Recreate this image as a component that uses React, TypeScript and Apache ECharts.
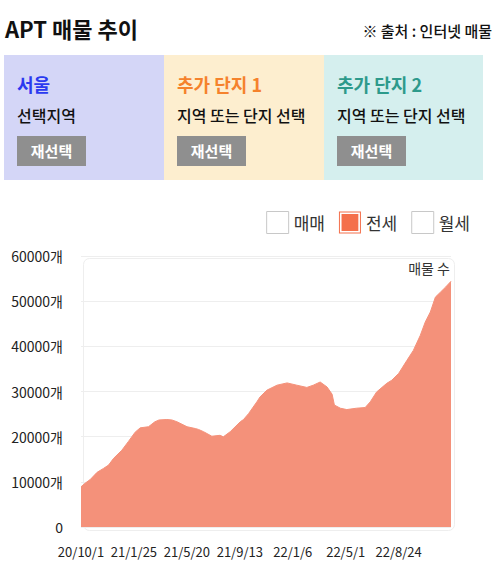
import React, { useEffect, useRef } from "react";
import * as echarts from "echarts";

// ---- data ----
const xTickLabels = ["20/10/1", "21/1/25", "21/5/20", "21/9/13", "22/1/6", "22/5/1", "22/8/24"];
// days since 2020-10-01 at which the value was read
const sampleDays = [
  0, 9, 20, 35, 49, 60, 71, 89, 103, 118, 129, 147, 161, 170, 187, 198, 209, 231, 249, 256,
  267, 285, 303, 310, 325, 347, 354, 365, 383, 390, 405, 427, 449, 470, 492, 506, 521, 536,
  547, 552, 565, 579, 600, 619, 630, 644, 666, 677, 692, 710, 724, 739, 750, 761, 772, 783,
  794, 806,
];
const jeonseCounts = [
  8900, 9700, 10500, 12100, 12970, 13700, 15200, 17000, 18900, 21000, 21950, 22200, 23300, 23700,
  23800, 23700, 23300, 22200, 21800, 21600, 21100, 20100, 20300, 19960, 21100, 23300, 23800, 25100,
  27700, 28800, 30300, 31400, 31900, 31400, 30900, 31400, 32100, 31000, 29400, 27000, 26300, 26000,
  26300, 26450, 27700, 29900, 31800, 32500, 34000, 36900, 39100, 42400, 45400, 47600, 50900, 52000,
  53100, 54400,
];
const legendNames = ["매매", "전세", "월세"];
const yTicks = [0, 10000, 20000, 30000, 40000, 50000, 60000];
const xMaxDay = 806;
const labelStepDays = 692 / 6;

const panels = [
  { title: "서울", sub: "선택지역", bg: "#d4d6f7", color: "#2b3af0" },
  { title: "추가 단지 1", sub: "지역 또는 단지 선택", bg: "#fdeecf", color: "#f5822c" },
  { title: "추가 단지 2", sub: "지역 또는 단지 선택", bg: "#d5efee", color: "#2d9a8b" },
];

const FONT = '"Noto Sans CJK KR", "Noto Sans", sans-serif';

function Chart() {
  const ref = useRef<HTMLDivElement>(null);
  useEffect(() => {
    if (!ref.current) return;
    const chart = echarts.init(ref.current, undefined, { renderer: "svg" });
    const seriesData = sampleDays.map((d, i) => [d, jeonseCounts[i]]);
    chart.setOption({
      animation: false,
      textStyle: { fontFamily: FONT },
      legend: {
        right: 25,
        top: 16,
        itemWidth: 22,
        itemHeight: 22,
        itemGap: 14,
        selectedMode: false,
        icon: "rect",
        textStyle: { fontSize: 17, color: "#333", fontFamily: FONT },
        data: [
          { name: legendNames[0], itemStyle: { color: "#fff", borderColor: "#c8c8c8", borderWidth: 1 } },
          {
            name: legendNames[1],
            icon: "path://M0,0H22V22H0Z M1,1V21H21V1Z M2.6,2.6H19.4V19.4H2.6Z",
            itemStyle: { color: "#f4704c", borderWidth: 0 },
          },
          { name: legendNames[2], itemStyle: { color: "#fff", borderColor: "#c8c8c8", borderWidth: 1 } },
        ],
      },
      grid: { left: 81, right: 49, top: 66, bottom: 57 },
      graphic: [
        {
          type: "rect",
          left: 81,
          top: 66,
          z: -10,
          shape: { width: 371, height: 272, r: 6 },
          style: { fill: "none", stroke: "#eeeeee", lineWidth: 1 },
        },
        {
          type: "text",
          right: 50,
          top: 71,
          style: { text: "매물 수", font: `14px ${FONT}`, fill: "#333" },
        },
      ],
      xAxis: {
        type: "value",
        min: 0,
        max: xMaxDay,
        interval: labelStepDays,
        axisLine: { show: false },
        axisTick: { show: false },
        splitLine: { show: false },
        axisLabel: {
          margin: 18,
          fontSize: 13,
          color: "#222",
          fontFamily: FONT,
          formatter: (v: number) => {
            const i = Math.round(v / labelStepDays);
            if (Math.abs(v - i * labelStepDays) > 0.01) return "";
            return xTickLabels[i] ?? "";
          },
        },
      },
      yAxis: {
        type: "value",
        min: yTicks[0],
        max: yTicks[yTicks.length - 1],
        interval: yTicks[1] - yTicks[0],
        axisLine: { show: false },
        axisTick: { show: false },
        splitLine: { lineStyle: { color: "#eeeeee" } },
        axisLabel: {
          margin: 18,
          fontSize: 14,
          color: "#222",
          fontFamily: FONT,
          formatter: (v: number) => (v === 0 ? "0" : `${v}개`),
        },
      },
      series: [
        { name: legendNames[0], type: "line", data: [], itemStyle: { color: "#fff" } },
        {
          name: legendNames[1],
          type: "line",
          data: seriesData,
          showSymbol: false,
          symbol: "none",
          lineStyle: { color: "#f4917a", width: 1 },
          itemStyle: { color: "#f4704c" },
          areaStyle: { color: "#f4917a", opacity: 1 },
        },
        { name: legendNames[2], type: "line", data: [], itemStyle: { color: "#fff" } },
      ],
    });
    return () => chart.dispose();
  }, []);
  return <div ref={ref} style={{ position: "absolute", left: 0, top: 190, width: 500, height: 394 }} />;
}

export default function App() {
  return (
    <div
      style={{
        position: "absolute",
        left: 0,
        top: 0,
        width: 500,
        height: 584,
        background: "#fff",
        fontFamily: FONT,
        overflow: "hidden",
      }}
    >
      <div
        style={{
          position: "absolute",
          left: 5,
          top: 13,
          fontSize: 22,
          lineHeight: "30px",
          fontWeight: 700,
          color: "#111",
          whiteSpace: "nowrap",
        }}
      >
        APT 매물 추이
      </div>
      <div
        style={{
          position: "absolute",
          right: 8,
          top: 21,
          fontSize: 15,
          lineHeight: "20px",
          fontWeight: 500,
          color: "#111",
          whiteSpace: "nowrap",
        }}
      >
        ※ 출처 : 인터넷 매물
      </div>
      {panels.map((p, i) => (
        <div
          key={p.title}
          style={{
            position: "absolute",
            left: 4 + i * 160,
            top: 55,
            width: i === 2 ? 159 : 160,
            height: 125,
            background: p.bg,
          }}
        >
          <div
            style={{
              position: "absolute",
              left: 13,
              top: 16,
              fontSize: 18,
              lineHeight: "26px",
              fontWeight: 700,
              color: p.color,
              whiteSpace: "nowrap",
            }}
          >
            {p.title}
          </div>
          <div
            style={{
              position: "absolute",
              left: 13,
              top: 49,
              fontSize: 16,
              lineHeight: "22px",
              fontWeight: 500,
              color: "#111",
              whiteSpace: "nowrap",
            }}
          >
            {p.sub}
          </div>
          <div
            style={{
              position: "absolute",
              left: 13,
              top: 81,
              width: 69,
              height: 30,
              background: "#8f8f8f",
              color: "#fff",
              fontSize: 15,
              fontWeight: 700,
              lineHeight: "30px",
              textAlign: "center",
            }}
          >
            재선택
          </div>
        </div>
      ))}
      <Chart />
    </div>
  );
}
